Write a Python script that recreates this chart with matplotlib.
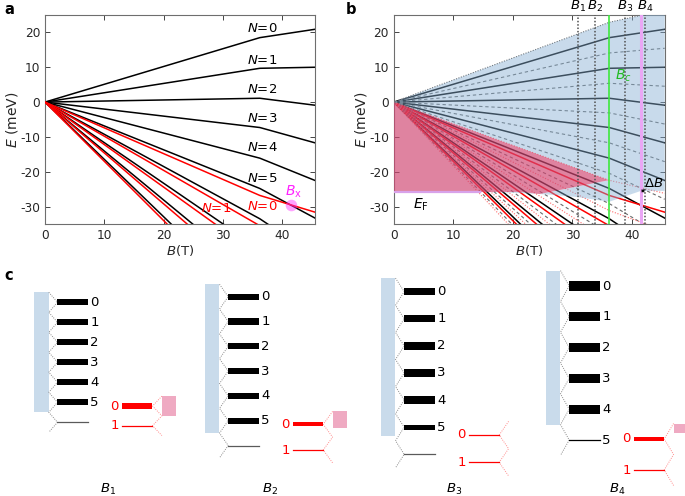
import numpy as np
import matplotlib
matplotlib.use('Agg')
import matplotlib.pyplot as plt
from matplotlib.patches import Rectangle, PathPatch
from matplotlib.path import Path

plt.rcParams['font.family'] = ['DejaVu Sans']
plt.rcParams['axes.unicode_minus'] = False
plt.rcParams['mathtext.fontset'] = 'dejavusans'

# ---------------- data ----------------
B_c = 36.2          # kink field (T)
B_end = 45.5        # right end of the field axis
B_x = 41.5          # crossing field
E_x = -29.6
E_F = -25.8

black_N = [0, 1, 2, 3, 4, 5, 6, 7, 8, 9]
black_E_c = [18.5, 9.7, 1.1, -7.3, -16.1, -24.8, -33.5, -42.2, -50.9, -59.6]
black_E_end = [20.9, 10.0, -0.9, -11.7, -22.5, -33.3, -44.1, -54.9, -65.7, -76.5]
black_label_E = [21.1, 11.9, 3.5, -4.8, -13.1, -21.9]

red_N = [0, 1, 2, 3, 4]
red_E_c = [-26.8, -35.5, -44.2, -52.9, -61.6]
red_E_end = [-31.6, -42.4, -53.2, -64.0, -74.8]
red_label_B = [36.6, 28.8]
red_label_E = [-29.9, -30.5]

B_marks = [31.0, 33.8, 38.9, 42.2]
B_mark_names = ['$B_1$', '$B_2$', '$B_3$', '$B_4$']

# occupied-region lower edges in panel b
blue_low_B = [0, 14.5, 20.0, 26.5, 31.0, 36.2, 41.5, 45.5]
blue_low_E = [-25.8, -25.8, -26.0, -26.6, -27.3, -28.6, -25.5, -25.5]
pink_low_B = [0, 14.5, 21.5, 24.5, 26.8, 36.2]
pink_low_E = [-25.8, -25.8, -25.8, -26.4, -25.6, -22.4]

# panel c schematic data
c_level0 = [302.3, 296.7, 291.7, 286.0]
c_spacing = [20.0, 24.8, 27.1, 30.8]
c_filled = [6, 6, 6, 5]
c_last_fill = [1.0, 1.0, 0.82, 1.0]
c_bar_h = [6.3, 6.3, 7.3, 9.3]
c_last_bar_h = [6.3, 6.3, 4.7, 9.3]
c_red0 = [406.0, 424.3, 435.0, 439.0]
c_red_spacing = [19.7, 25.7, 27.3, 31.0]
c_red_fill = [1.0, 0.66, 0.0, 0.3]
c_red_bar_h = [5.3, 4.0, 0.0, 3.7]

# ---------------- helpers ----------------
def half_levels(E):
    E = np.asarray(E)
    mids = (E[:-1] + E[1:]) / 2
    top = E[0] + (E[0] - E[1]) / 2
    bot = E[-1] - (E[-2] - E[-1]) / 2
    return np.concatenate([[top], mids, [bot]])

def path_xy(Ec, Ee):
    return [0, B_c, B_end], [0, Ec, Ee]

def style_axes(ax):
    ax.set_xlim(0, B_end)
    ax.set_ylim(-35, 25)
    ax.set_xticks([0, 10, 20, 30, 40])
    ax.set_yticks([20, 10, 0, -10, -20, -30])
    ax.tick_params(direction='in', top=True, right=True, length=3.5,
                   labelsize=8.7, colors='#262626', width=0.6)
    for s in ax.spines.values():
        s.set_color('#6e6e6e')
        s.set_linewidth(0.8)
    ax.set_xlabel('$B$(T)', fontsize=9.5, labelpad=1, color='#262626')
    ax.set_ylabel('$E$ (meV)', fontsize=10, labelpad=0, color='#262626')

def closed_path(poly):
    verts = np.vstack([poly, poly[:1]])
    codes = [Path.MOVETO] + [Path.LINETO] * (len(poly) - 1) + [Path.CLOSEPOLY]
    return verts, codes

W, H = 685, 496
fig = plt.figure(figsize=(W / 100, H / 100), dpi=100)

# overlay axes in pixel coordinates for panel c
axc = fig.add_axes([0, 0, 1, 1])
axc.set_xlim(0, W)
axc.set_ylim(H, 0)
axc.axis('off')
axc.patch.set_alpha(0)

ax_a = fig.add_axes([45 / W, 1 - 224 / H, 270 / W, 209 / H])
ax_b = fig.add_axes([393.7 / W, 1 - 224 / H, 271 / W, 209 / H])

# ---------------- panel a ----------------
for Ec, Ee in zip(black_E_c, black_E_end):
    x, y = path_xy(Ec, Ee)
    ax_a.plot(x, y, color='black', lw=1.1, zorder=2)
for Ec, Ee in zip(red_E_c, red_E_end):
    x, y = path_xy(Ec, Ee)
    ax_a.plot(x, y, color='red', lw=1.1, zorder=3)
for n, e in zip(black_N, black_label_E):
    ax_a.text(36.6, e, f'$N$={n}', ha='center', va='center', fontsize=9.5)
for n, (b, e) in enumerate(zip(red_label_B, red_label_E)):
    ax_a.text(b, e, f'$N$={n}', ha='center', va='center', fontsize=9.5, color='red')
ax_a.scatter([B_x], [E_x], s=70, color='#ff33ff', alpha=0.45, zorder=5, linewidths=0)
ax_a.text(B_x + 0.3, E_x + 3.8, r'$B_\mathrm{x}$', color='#ff22ff', fontsize=10,
          ha='center', va='center')
style_axes(ax_a)

# ---------------- panel b ----------------
bh = half_levels(black_E_c)
bhe = half_levels(black_E_end)
rh = half_levels(red_E_c)
rhe = half_levels(red_E_end)

for Ec, Ee in zip(black_E_c, black_E_end):
    x, y = path_xy(Ec, Ee)
    ax_b.plot(x, y, color='black', lw=1.1, zorder=2)
for Ec, Ee in zip(red_E_c, red_E_end):
    x, y = path_xy(Ec, Ee)
    ax_b.plot(x, y, color='red', lw=1.1, zorder=2)
for i, (Ec, Ee) in enumerate(zip(bh, bhe)):
    x, y = path_xy(Ec, Ee)
    ls = (0, (1, 1.3)) if i == 0 else (0, (3, 2.5))
    ax_b.plot(x, y, color='#6a6a6a', lw=0.8, ls=ls, zorder=2)
for Ec, Ee in zip(rh, rhe):
    x, y = path_xy(Ec, Ee)
    ax_b.plot(x, y, color='#ff6a6a', lw=0.8, ls=(0, (1, 1.5)), zorder=2)

xg = np.linspace(0, B_end, 1500)
btop = np.interp(xg, [0, B_c, B_end], [0, bh[0], bhe[0]])
blow = np.interp(xg, blue_low_B, blue_low_E)
xp = np.linspace(0, pink_low_B[-1], 1000)
rtop = np.interp(xp, [0, B_c, B_end], [0, rh[0], rhe[0]])
plow = np.maximum(np.interp(xp, pink_low_B, pink_low_E),
                  np.interp(xp, blue_low_B, blue_low_E))
plow = np.minimum(plow, rtop)

blue_poly = np.vstack([np.column_stack([xg, np.maximum(btop, blow)]),
                       np.column_stack([xg[::-1], blow[::-1]])])
pink_poly = np.vstack([np.column_stack([xp, plow]),
                       np.column_stack([xp[::-1], rtop[::-1]])])

blue_rgba = (135 / 255, 175 / 255, 211 / 255, 0.45)
pink_rgba = (208 / 255, 72 / 255, 115 / 255, 0.68)
bv, bc = closed_path(blue_poly)
pv, pc = closed_path(pink_poly)
ax_b.add_patch(PathPatch(Path(np.vstack([bv, pv]), bc + pc), facecolor=blue_rgba,
                         edgecolor='none', zorder=3))
ax_b.add_patch(PathPatch(Path(pv, pc), facecolor=pink_rgba, edgecolor='none', zorder=3))

ax_b.plot([0, 14.5], [E_F, E_F], color='#d8a2ea', lw=1.6, zorder=4)
for b, name in zip(B_marks, B_mark_names):
    ax_b.axvline(b, color='#505050', lw=1.1, ls=(0, (1, 1.2)), zorder=5)
    ax_b.text(b, 25.4, name, ha='center', va='bottom', fontsize=9.5, clip_on=False)
ax_b.axvline(B_c, color='#3ee83e', lw=1.2, zorder=5)
ax_b.axvline(B_x, color='#eaa6f5', lw=2.2, zorder=4)
ax_b.text(B_c + 2.4, 7.6, '$B_c$', color='#22bb22', fontsize=10, ha='center', va='center')
ax_b.annotate('', xy=(B_marks[3], -25.5), xytext=(B_x, -25.5),
              arrowprops=dict(arrowstyle='<->', lw=0.6, color='black',
                              shrinkA=0, shrinkB=0, mutation_scale=4), zorder=6)
ax_b.text(43.7, -23.3, r'$\Delta B$', fontsize=9.5, ha='center', va='center', zorder=6)
ax_b.text(4.5, -29.4, r'$E_\mathrm{F}$', fontsize=10, ha='center', va='center')
style_axes(ax_b)

# panel letters
fig.text(4 / W, 1 - 10 / H, 'a', fontsize=10.5, weight='bold', va='center')
fig.text(346 / W, 1 - 10 / H, 'b', fontsize=10.5, weight='bold', va='center')
fig.text(4 / W, 1 - 276 / H, 'c', fontsize=10.5, weight='bold', va='center')

# ---------------- panel c ----------------
c_x0 = [34.3, 205.0, 381.0, 546.0]
c_name_x = [108, 270, 454, 617]
c_names = ['$B_1$', '$B_2$', '$B_3$', '$B_4$']
for g in range(4):
    x0 = c_x0[g]
    sp = c_spacing[g]
    y0 = c_level0[g]
    rect_r = x0 + 14.5
    bar_l = x0 + 23.2
    bar_r = bar_l + 30.4
    nf = c_filled[g]
    top = y0 - 0.5 * sp
    bot = y0 + (nf - 1.5 + c_last_fill[g]) * sp
    axc.add_patch(Rectangle((x0, top), 14.5, bot - top, facecolor='#c9dbeb',
                            edgecolor='none', zorder=1))
    for n in range(nf):
        h = c_last_bar_h[g] if n == nf - 1 else c_bar_h[g]
        y = y0 + n * sp
        axc.add_patch(Rectangle((bar_l, y - h / 2), bar_r - bar_l, h,
                                facecolor='black', edgecolor='none', zorder=2))
        axc.text(bar_r + 2.5, y, str(n), fontsize=9.5, va='center', ha='left')
    y = y0 + nf * sp
    axc.plot([bar_l, bar_r], [y, y], color='black' if nf <= 5 else '#5a5a5a', lw=0.9)
    if nf <= 5:
        axc.text(bar_r + 2.5, y, str(nf), fontsize=9.5, va='center', ha='left')
    ks = np.arange(-0.5, nf + 0.51, 0.5)
    zx = [rect_r if (k % 1) else bar_l for k in ks]
    zy = [y0 + k * sp for k in ks]
    axc.plot(zx, zy, color='#8a8a8a', lw=0.7, ls=(0, (1, 1.3)), zorder=1)

    # red levels
    rl = x0 + 88.2
    rr = rl + 30.0
    rsp = c_red_spacing[g]
    r0 = c_red0[g]
    if c_red_fill[g] > 0:
        h = c_red_bar_h[g]
        axc.add_patch(Rectangle((rl, r0 - h / 2), rr - rl, h, facecolor='red',
                                edgecolor='none', zorder=2))
        ptop = r0 - 0.5 * rsp
        pbot = r0 + (c_red_fill[g] - 0.5) * rsp
        axc.add_patch(Rectangle((rr + 9.4, ptop), 14.0, pbot - ptop,
                                facecolor='#efaac2', edgecolor='none', zorder=1))
    else:
        axc.plot([rl, rr], [r0, r0], color='red', lw=0.9)
    axc.plot([rl, rr], [r0 + rsp, r0 + rsp], color='red', lw=0.9)
    for n in range(2):
        axc.text(rl - 3.5, r0 + n * rsp, str(n), color='red', fontsize=9.5,
                 va='center', ha='right')
    ks = np.arange(-0.5, 1.51, 0.5)
    zx = [rr + 9.4 if (k % 1) else rr for k in ks]
    zy = [r0 + k * rsp for k in ks]
    axc.plot(zx, zy, color='#ff8c8c', lw=0.7, ls=(0, (1, 1.3)), zorder=1)

    axc.text(c_name_x[g], 489.5, c_names[g], fontsize=9.5, ha='center', va='center')

fig.savefig('out.png', dpi=100)
